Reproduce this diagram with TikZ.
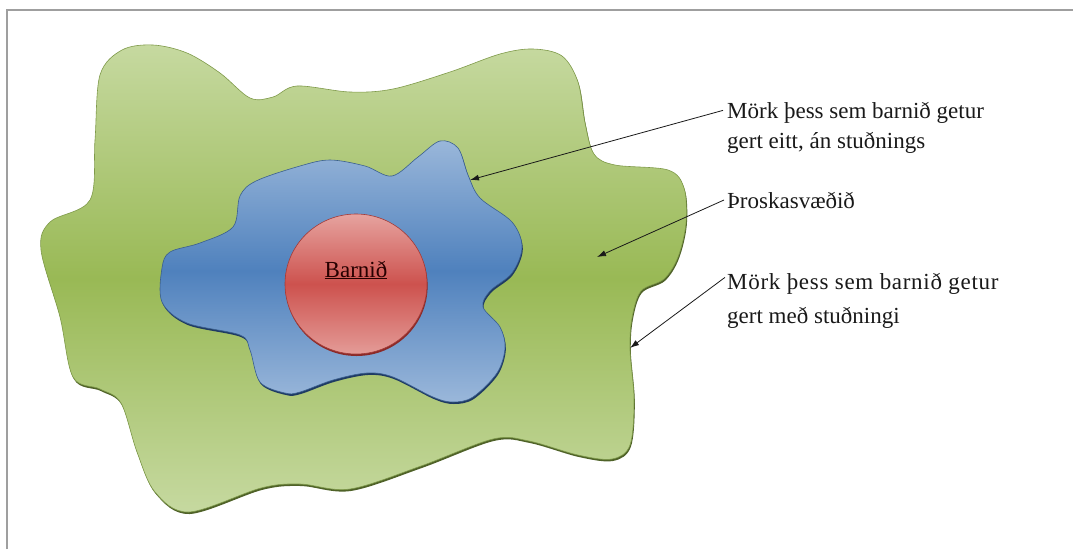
\documentclass[tikz,border=0pt]{standalone}
\usepackage{fontspec}
\setmainfont{Liberation Serif}
\usetikzlibrary{arrows.meta}
\definecolor{gLight}{HTML}{C6D9A0}
\definecolor{gDark}{HTML}{99B955}
\definecolor{gEdge}{HTML}{4F6228}
\definecolor{gOut}{HTML}{7F9A4A}
\definecolor{bLight}{HTML}{9AB7DA}
\definecolor{bDark}{HTML}{4F81BD}
\definecolor{bEdge}{HTML}{1F3B63}
\definecolor{bOut}{HTML}{3A5F8F}
\definecolor{rLight}{HTML}{E6A39F}
\definecolor{rDark}{HTML}{CD524E}
\definecolor{rEdge}{HTML}{8B2A28}
\definecolor{rOut}{HTML}{A33A37}
\begin{document}
\begin{tikzpicture}[x=1pt,y=-1pt,
  lbl/.style={anchor=base west, inner sep=0pt, font=\fontsize{23}{28}\selectfont, text=black!90},
  ptr/.style={-{Latex[length=9pt,width=6pt]}, line width=0.8pt, black!90},
  frameline/.style={draw=gray!75, line width=1.2pt}
]
\useasboundingbox (0,0) rectangle (1073,549);
\draw[frameline] (7,549) -- (7,10) -- (1073,10);

% green zone
\path[draw=gOut, line width=0.6pt, top color=gLight, bottom color=gLight, middle color=gDark,
  preaction={fill=gEdge, transform canvas={shift={(0.8pt,-2pt)}}}]
  plot[smooth cycle, tension=0.55] coordinates {
  (95,140) (100,75) (122,50) (153,45) (187,53) (220,73) (250,98) (273,97) (297,86)
  (350,92) (393,89) (450,72) (500,54) (533,49) (562,56) (578,82) (585,123) (594,154)
  (615,165) (668,170) (684,188) (686,223) (678,257) (664,279) (641,291) (632,318)
  (630,350) (634,400) (630,445) (612,459) (578,455) (529,441) (493,439) (421,466)
  (350,489) (300,484) (261,488) (189,512) (155,492) (137,452) (121,403) (100,389)
  (73,377) (60,317) (41,250) (50,222) (90,200)};

% blue zone
\path[draw=bOut, line width=0.6pt, top color=bLight, bottom color=bLight, middle color=bDark,
  preaction={fill=bEdge, transform canvas={shift={(0.8pt,-2pt)}}}]
  plot[smooth cycle, tension=0.55] coordinates {
  (170,252) (200,243) (233,227) (240,196) (256,181) (300,166) (330,160) (365,166)
  (392,176) (418,157) (440,141) (458,148) (468,175) (480,198) (512,222) (522,247)
  (512,273) (490,291) (483,307) (500,327) (505,348) (497,373) (473,397) (453,402)
  (433,397) (393,377) (367,373) (333,380) (300,392) (285,393) (260,382) (250,350)
  (240,335) (187,323) (162,302) (162,268)};

% red circle
\path[draw=rOut, line width=0.6pt, top color=rLight, bottom color=rLight!90!rDark, middle color=rDark,
  preaction={fill=rEdge, transform canvas={shift={(0.6pt,-2pt)}}}]
  (356,284) ellipse [x radius=71, y radius=70];
\node[anchor=base, inner sep=0pt, font=\fontsize{23}{28}\selectfont, text=black!85!red] (barn) at (356,277) {\underline{Barnið}};

% labels
\node[lbl] (l1) at (727,118) {Mörk þess sem barnið getur};
\node[lbl] (l1b) at (727,148) {gert eitt, án stuðnings};
\node[lbl] (l2) at (727,208) {Þroskasvæðið};
\node[lbl] (l3) at (727,289) {\addfontfeature{LetterSpace=3}Mörk þess sem barnið getur};
\node[lbl] (l3b) at (727,323) {gert með stuðningi};

\coordinate (t1) at (470,180);
\coordinate (t2) at (597,257);
\coordinate (t3) at (630,348);
\draw[ptr] ([xshift=-4pt,yshift=2pt]l1.west) -- (t1);
\draw[ptr] ([xshift=-3pt]l2.west) -- (t2);
\draw[ptr] ([xshift=-2pt,yshift=6pt]l3.west) -- (t3);
\end{tikzpicture}
\end{document}
